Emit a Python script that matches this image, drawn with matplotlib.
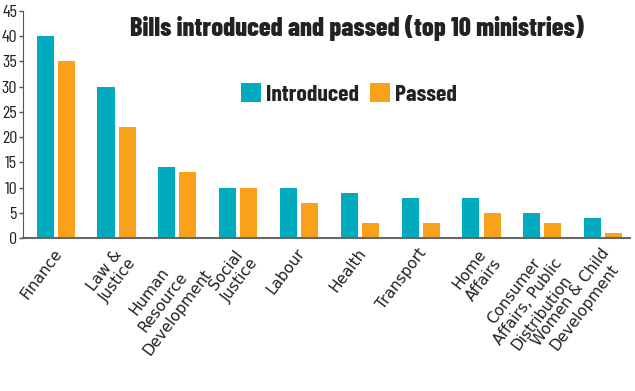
import numpy as np
import matplotlib.pyplot as plt
import matplotlib.transforms as mtransforms

ministries = ["Finance", "Law &\nJustice", "Human\nResource\nDevelopment", "Social\nJustice",
              "Labour", "Health", "Transport", "Home\nAffairs",
              "Consumer\nAffairs, Public\nDistribution", "Women & Child\nDevelopment"]
introduced = [40, 30, 14, 10, 10, 9, 8, 8, 5, 4]
passed = [35, 22, 13, 10, 7, 3, 3, 5, 3, 1]
yticks = [0, 5, 10, 15, 20, 25, 30, 35, 40, 45]

cond = ['Barlow Condensed', 'DejaVu Sans']
teal = '#00abbd'
orange = '#f9a11b'

fig = plt.figure(figsize=(6.35, 3.91), dpi=100)
ax = fig.add_axes([0.036, 0.391, 0.956, 0.581])

x = np.arange(len(ministries))
w = 0.28
off = 0.173
ax.bar(x - off, introduced, w, color=teal, label='Introduced')
ax.bar(x + off, passed, w, color=orange, label='Passed')

ax.set_xlim(-0.54, 9.44)
ax.set_ylim(0, 45)
ax.set_yticks(yticks)
ax.set_yticklabels([str(v) for v in yticks], family=cond, fontsize=13, color='#222222')
ax.tick_params(axis='y', length=3, width=1, color='#555555', pad=1)
ax.set_xticks(x)
ax.set_xticklabels(ministries, rotation=53, ha='right', rotation_mode='anchor',
                   family='DejaVu Sans', fontsize=11, color='#222222',
                   multialignment='center')
ax.tick_params(axis='x', length=0, pad=4)
# small nudge of the rotated labels
shift = mtransforms.ScaledTranslation(-3 / 100, -2 / 100, fig.dpi_scale_trans)
for lbl in ax.get_xticklabels():
    lbl.set_transform(lbl.get_transform() + shift)

for s in ['top', 'right']:
    ax.spines[s].set_visible(False)
ax.spines['left'].set_color('#555555')
ax.spines['bottom'].set_color('#666666')
ax.spines['bottom'].set_linewidth(1.5)

fig.text(0.562, 0.928, 'Bills introduced and passed (top 10 ministries)', family=cond,
         fontweight=800, fontsize=19, color='#222222', ha='center', va='center')

leg = ax.legend(loc='center', bbox_to_anchor=(0.537, 0.634), ncol=2, frameon=False,
                prop={'family': cond, 'weight': 'bold', 'size': 17},
                handlelength=0.85, handleheight=0.85, handletextpad=0.2, columnspacing=0.45)
for t in leg.get_texts():
    t.set_color('#222222')

fig.savefig('out.png', dpi=100)
